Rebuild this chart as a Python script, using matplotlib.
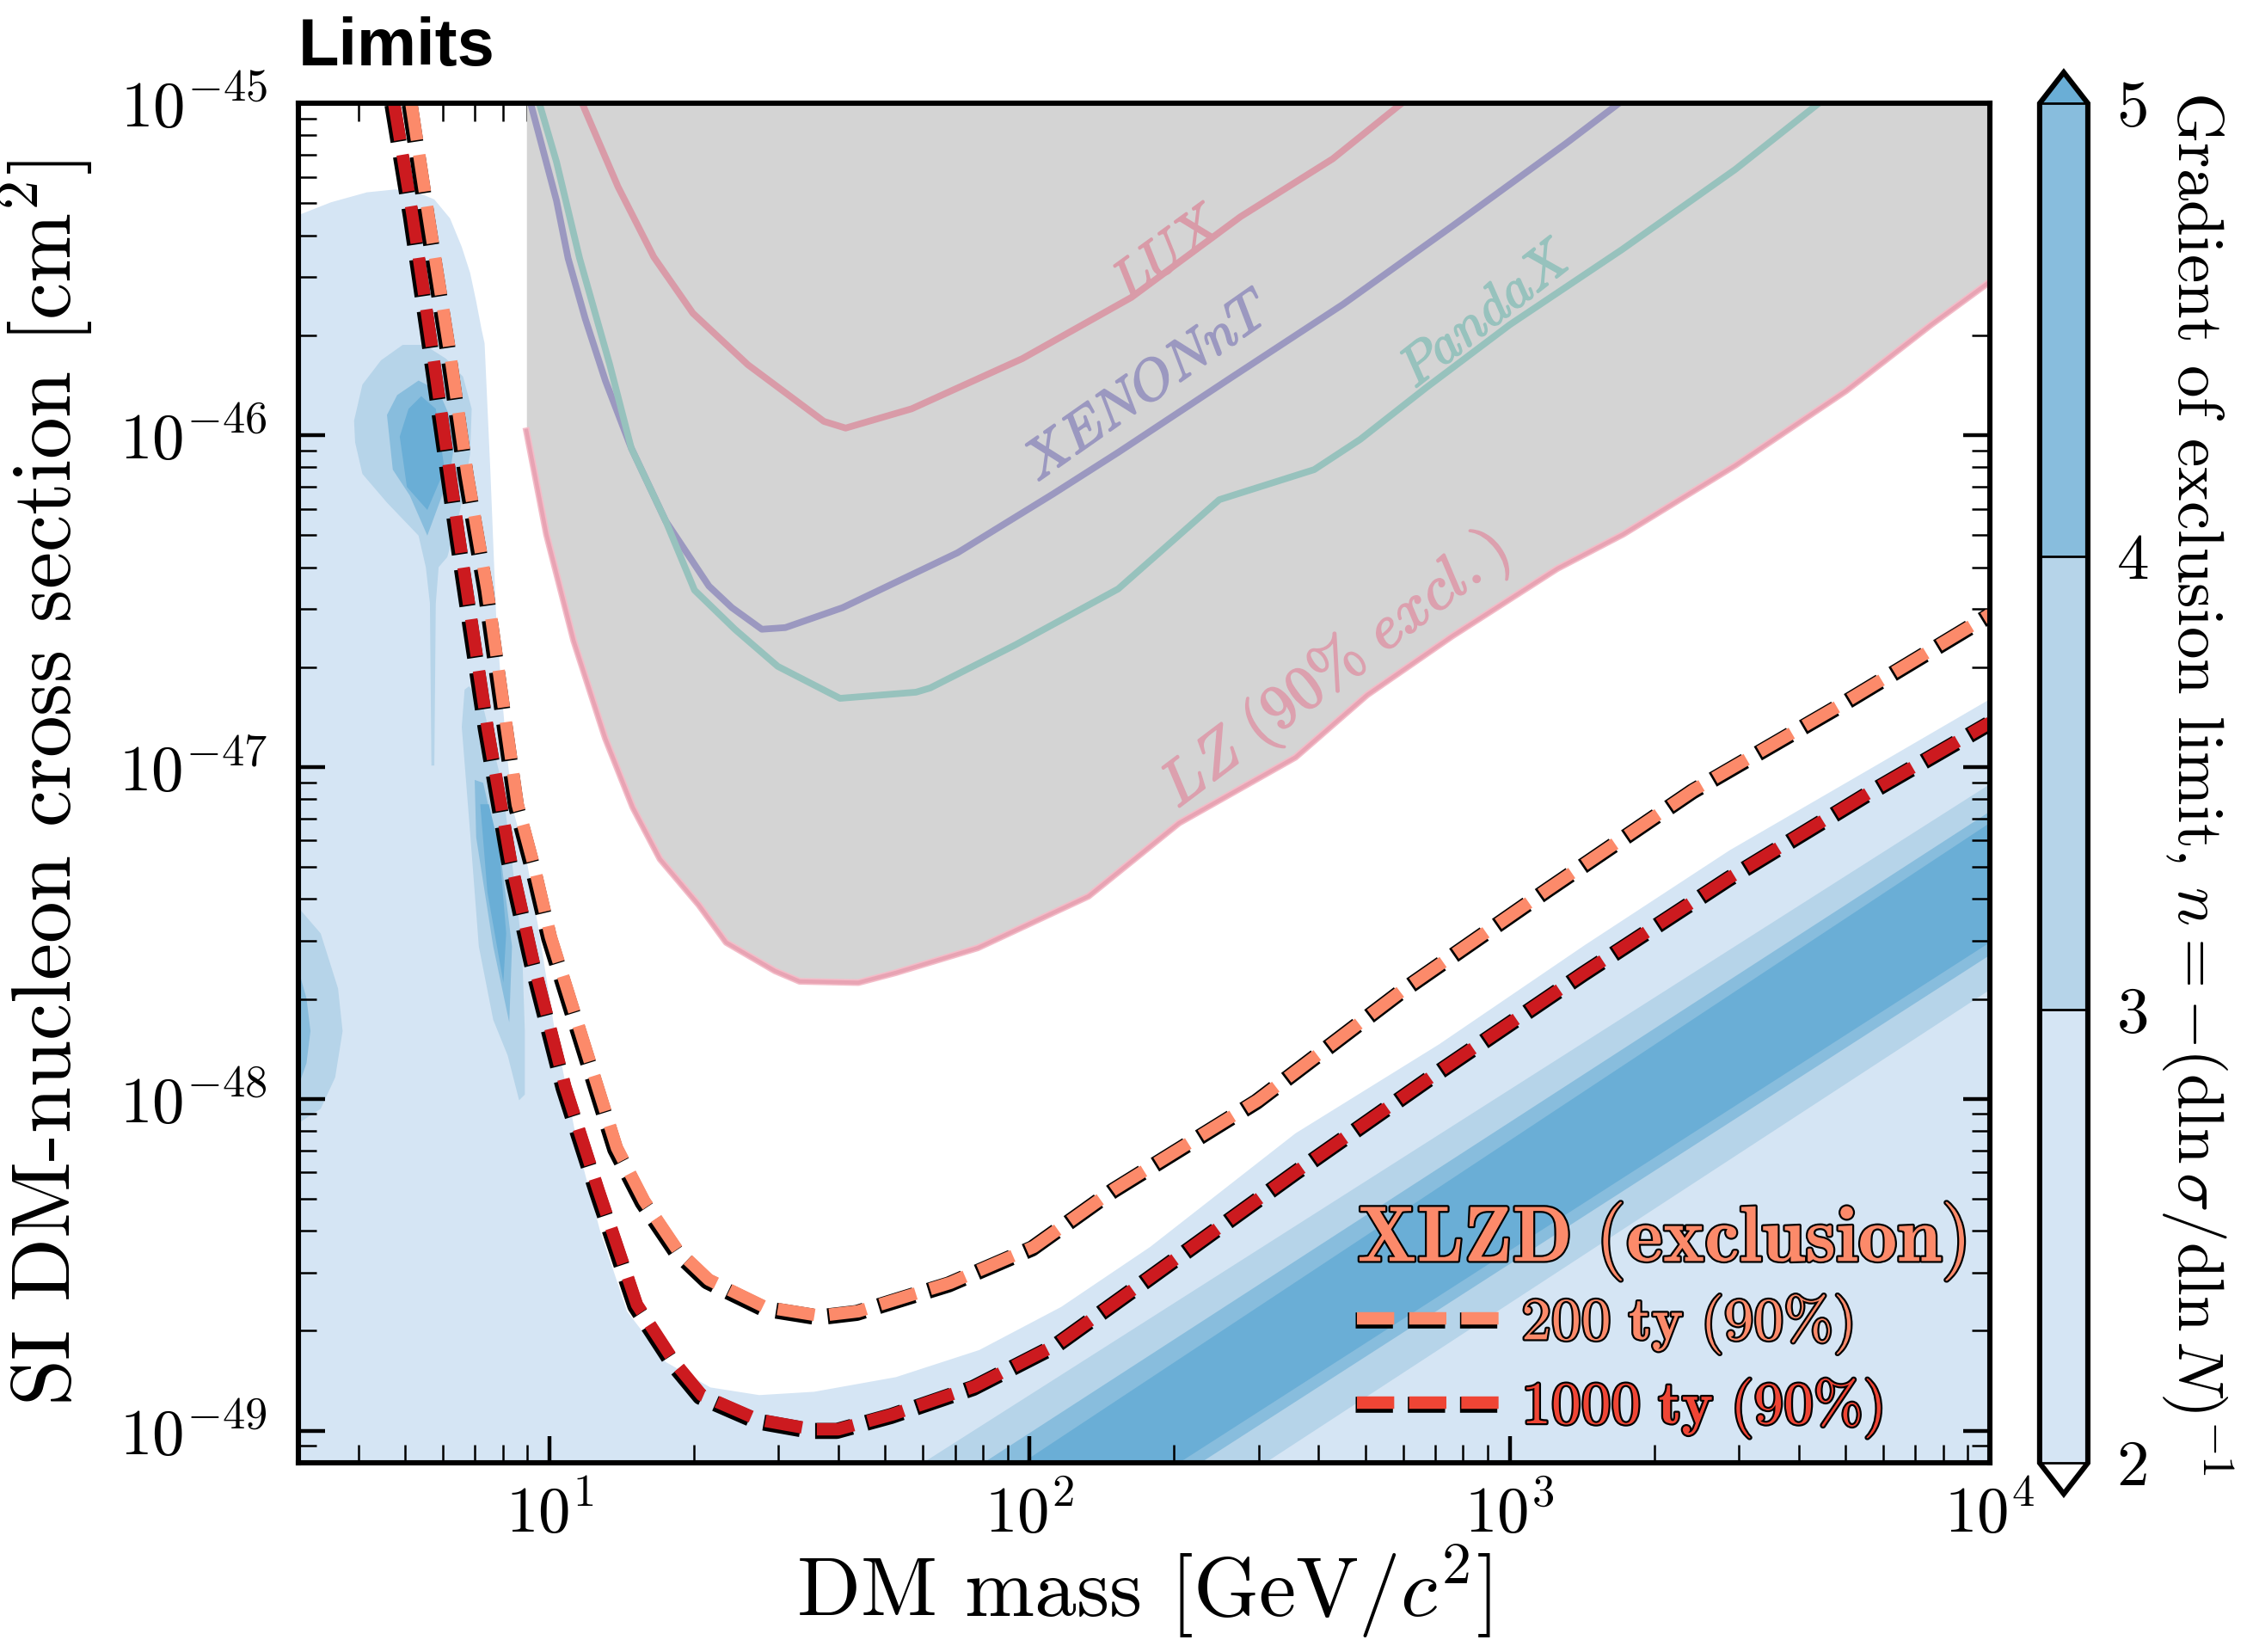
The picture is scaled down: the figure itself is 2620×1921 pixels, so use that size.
import numpy as np
import matplotlib
matplotlib.use('Agg')
import matplotlib.pyplot as plt
import matplotlib.patheffects as pe
from matplotlib.colors import ListedColormap, BoundaryNorm
from matplotlib.cm import ScalarMappable
from matplotlib.lines import Line2D
from matplotlib.ticker import LogLocator, NullFormatter, FixedLocator

plt.rcParams['mathtext.fontset'] = 'cm'
plt.rcParams['font.family'] = 'cmr10'
plt.rcParams['axes.formatter.use_mathtext'] = True

XMIN, XMAX = 3.0, 1e4
YMIN, YMAX = 8e-50, 1e-45
x_major = [1e1, 1e2, 1e3, 1e4]
y_major = [1e-49, 1e-48, 1e-47, 1e-46, 1e-45]

# --- existing limits (DM mass in GeV, cross section in cm^2) ---
lux_x = [11.7, 13.9, 16.5, 19.9, 25.9, 37.3, 41.4, 56.8, 96.6, 163, 275, 428, 596]
lux_y = [1.0e-45, 5.6e-46, 3.44e-46, 2.33e-46, 1.63e-46, 1.10e-46, 1.05e-46, 1.20e-46,
         1.70e-46, 2.60e-46, 4.55e-46, 6.8e-46, 1.0e-45]

xenon_x = [9.14, 10.35, 10.94, 11.88, 13.08, 14.81, 17.48, 21.49, 24.0, 27.7, 31.0, 40.8,
           70.8, 112, 153, 263, 450, 764, 1309, 1689]
xenon_y = [1e-45, 5.08e-46, 3.41e-46, 2.24e-46, 1.46e-46, 9.14e-47, 5.50e-47, 3.51e-47,
           3.02e-47, 2.60e-47, 2.63e-47, 3.02e-47, 4.42e-47, 6.65e-47, 8.87e-47, 1.49e-46,
           2.48e-46, 4.29e-46, 7.56e-46, 1e-45]

pandax_x = [9.53, 10.35, 11.56, 13.36, 14.81, 17.48, 20.06, 24.34, 29.9, 40.3, 58.0, 62.1,
            93.3, 153, 248.5, 391.6, 488, 670, 1000, 1712, 2951, 4403]
pandax_y = [1e-45, 6.65e-46, 3.41e-46, 1.63e-46, 9.14e-47, 5.50e-47, 3.41e-47, 2.60e-47,
            2.01e-47, 1.61e-47, 1.68e-47, 1.73e-47, 2.33e-47, 3.44e-47, 6.39e-47, 7.87e-47,
            9.70e-47, 1.39e-46, 2.15e-46, 3.62e-46, 6.32e-46, 1e-45]

lz_x = [8.96, 9.86, 11.24, 13.08, 14.92, 17.0, 20.48, 23.35, 29.5, 33.2, 44.0, 52.7, 78.0,
        132.7, 204.8, 358, 505, 759, 1256, 1724, 2951, 5018, 7539, 10000]
lz_y = [1.03e-46, 5.03e-47, 2.40e-47, 1.22e-47, 7.56e-48, 5.28e-48, 3.84e-48, 2.96e-48,
        2.43e-48, 2.26e-48, 2.24e-48, 2.40e-48, 2.85e-48, 4.08e-48, 6.78e-48, 1.07e-47,
        1.65e-47, 2.48e-47, 3.96e-47, 5.03e-47, 8.11e-47, 1.36e-46, 2.15e-46, 2.90e-46]

# --- XLZD projected exclusion ---
x200_x = [5.16, 5.60, 6.17, 6.75, 7.43, 8.02, 8.59, 9.33, 10.07, 11.48, 13.82, 15.76, 18.47,
          21.49, 28.1, 36.6, 44.0, 68.4, 102, 150.2, 299, 600, 1204, 2417, 4815, 9333, 10000]
x200_y = [1e-45, 4.60e-46, 1.89e-46, 7.64e-47, 3.41e-47, 1.55e-47, 7.72e-48, 4.93e-48,
          3.08e-48, 1.68e-48, 7.13e-49, 4.93e-49, 3.51e-49, 2.85e-49, 2.36e-49, 2.22e-49,
          2.29e-49, 2.79e-49, 3.58e-49, 5.34e-49, 9.90e-49, 2.13e-48, 4.29e-48, 8.52e-48,
          1.52e-47, 2.71e-47, 2.88e-47]

x1000_x = [4.75, 5.19, 5.68, 6.09, 6.48, 6.94, 7.43, 8.30, 9.27, 10.79, 12.64, 15.22, 18.22,
           20.77, 27.2, 35.3, 40.0, 51.9, 76.9, 114.0, 178.4, 358, 713, 1431, 2872, 5722, 10000]
x1000_y = [1e-45, 4.60e-46, 1.89e-46, 9.33e-47, 4.98e-47, 2.55e-47, 1.32e-47, 5.28e-48,
           2.58e-48, 1.09e-48, 5.34e-49, 2.40e-49, 1.61e-49, 1.28e-49, 1.08e-49, 1.01e-49,
           1.01e-49, 1.12e-49, 1.36e-49, 1.82e-49, 2.90e-49, 6.01e-49, 1.21e-48, 2.40e-48,
           4.64e-48, 8.52e-48, 1.36e-47]

# --- gradient n = -(dln sigma / dln N)^-1 : region boundaries ---
# n >= 2 : upper edge (region lies below it)
n2_edge_x = [3.0, 3.51, 4.17, 4.78, 5.31, 5.76, 6.21, 6.57, 6.84, 7.04, 7.23, 7.33, 7.54, 7.75,
             7.96, 8.19, 8.42, 8.96, 9.53, 10.21, 11.48, 12.73, 14.51, 17.48, 21.64, 27.36,
             35.6, 52.7, 78.6, 116.4, 178.4, 358, 713, 1431, 2872, 5722, 10000]
n2_edge_y = [4.60e-46, 5.03e-46, 5.39e-46, 5.50e-46, 5.39e-46, 5.13e-46, 4.50e-46, 3.69e-46,
             3.08e-46, 2.53e-46, 2.07e-46, 1.89e-46, 7.64e-47, 2.82e-47, 1.66e-47, 1.04e-47,
             7.34e-48, 5.28e-48, 3.15e-48, 1.68e-48, 7.13e-49, 4.04e-49, 2.29e-49, 1.61e-49,
             1.35e-49, 1.28e-49, 1.31e-49, 1.45e-49, 1.75e-49, 2.36e-49, 3.58e-49, 7.87e-49,
             1.46e-48, 2.90e-48, 5.61e-48, 1.0e-47, 1.60e-47]

# n >= 3 islands
n3_a_x = [3.92, 4.08, 4.46, 4.95, 5.49, 6.09, 6.61, 6.89, 6.84, 6.52, 6.13, 5.88, 5.80, 5.76,
          5.68, 5.64, 5.53, 5.34, 4.59, 4.08, 3.94]
n3_a_y = [1.105e-46, 1.42e-46, 1.68e-46, 1.87e-46, 1.87e-46, 1.70e-46, 1.50e-46, 1.20e-46,
          8.78e-47, 5.95e-47, 4.29e-47, 4.00e-47, 3.11e-47, 1.01e-47, 1.01e-47, 3.11e-47,
          4.00e-47, 4.98e-47, 6.26e-47, 7.64e-47, 9.51e-47]
n3_b_x = [6.66, 6.57, 6.84, 7.13, 7.64, 8.19, 8.65, 8.89, 8.89, 8.77, 8.36, 7.96, 7.23, 6.80]
n3_b_y = [1.71e-47, 1.32e-47, 6.32e-48, 2.88e-48, 1.73e-48, 1.35e-48, 9.90e-49, 1.03e-48,
          1.60e-48, 2.88e-48, 5.18e-48, 8.96e-48, 1.58e-47, 1.75e-47]
n3_c_x = [3.0, 3.34, 3.63, 3.71, 3.58, 3.34, 3.0]
n3_c_y = [3.77e-48, 3.15e-48, 2.15e-48, 1.60e-48, 1.16e-48, 9.33e-49, 8.44e-49]

# n >= 4 islands
n4_a_x = [4.59, 4.82, 5.34, 5.88, 6.39, 6.21, 5.57, 5.12, 4.72]
n4_a_y = [1.15e-46, 1.32e-46, 1.46e-46, 1.36e-46, 1.03e-46, 7.64e-47, 4.98e-47, 6.58e-47, 7.87e-47]
n4_b_x = [6.99, 7.04, 7.64, 8.25, 8.36, 7.96, 7.28]
n4_b_y = [9.14e-48, 6.14e-48, 2.88e-48, 1.70e-48, 2.88e-48, 5.08e-48, 8.96e-48]
n4_c_x = [3.0, 3.12, 3.18, 3.12, 3.0]
n4_c_y = [2.45e-48, 2.01e-48, 1.60e-48, 1.28e-48, 1.09e-48]

# n >= 5 islands
n5_a_x = [4.88, 5.09, 5.41, 5.80, 6.05, 5.57, 5.05]
n5_a_y = [9.90e-47, 1.20e-46, 1.31e-46, 1.20e-46, 7.87e-47, 5.95e-47, 6.98e-47]
n5_b_x = [7.18, 7.43, 8.02, 8.13, 7.86, 7.48]
n5_b_y = [7.72e-48, 4.20e-48, 2.24e-48, 3.15e-48, 5.72e-48, 7.72e-48]

# diagonal bands at high mass: (upper edge, lower edge)
band3_up_x, band3_up_y = [60.0, 10000], [8e-50, 8.87e-48]
band3_lo_x, band3_lo_y = [309.7, 10000], [8e-50, 2.13e-48]
band4_up_x, band4_up_y = [80.2, 10000], [8e-50, 7.34e-48]
band4_lo_x, band4_lo_y = [227, 10000], [8e-50, 2.71e-48]
band5_up_x, band5_up_y = [96.6, 10000], [8e-50, 6.78e-48]
band5_lo_x, band5_lo_y = [204.8, 10000], [8e-50, 2.96e-48]

levels = [2, 3, 4, 5]
level_colors = ['#d5e5f4', '#b6d4e9', '#88bddd']
over_color = '#6aaed6'

C_LUX, C_XEN, C_PAN, C_LZ = '#d99ba8', '#9b98c0', '#97c2bd', '#e8a3b3'
C200, C1000 = '#fc8a6a', '#cc1a1f'
C200_LEG, C1000_LEG = '#fc8a6a', '#ef4535'

fig = plt.figure(figsize=(13.1, 9.605), dpi=200)
ax = fig.add_axes([0.1324, 0.1145, 0.7508, 0.8230])
cax = fig.add_axes([0.9053, 0.0957, 0.0214, 0.8605])

ax.set_xscale('log')
ax.set_yscale('log')
ax.set_xlim(XMIN, XMAX)
ax.set_ylim(YMIN, YMAX)

# gradient regions
ax.fill(n2_edge_x + [XMAX, XMIN], n2_edge_y + [YMIN, YMIN], color=level_colors[0], lw=0, zorder=1)
for px, py in [(n3_a_x, n3_a_y), (n3_b_x, n3_b_y), (n3_c_x, n3_c_y),
               (band3_up_x + band3_lo_x[::-1], band3_up_y + band3_lo_y[::-1])]:
    ax.fill(px, py, color=level_colors[1], lw=0, zorder=1.1)
for px, py in [(n4_a_x, n4_a_y), (n4_b_x, n4_b_y), (n4_c_x, n4_c_y),
               (band4_up_x + band4_lo_x[::-1], band4_up_y + band4_lo_y[::-1])]:
    ax.fill(px, py, color=level_colors[2], lw=0, zorder=1.2)
for px, py in [(n5_a_x, n5_a_y), (n5_b_x, n5_b_y),
               (band5_up_x + band5_lo_x[::-1], band5_up_y + band5_lo_y[::-1])]:
    ax.fill(px, py, color=over_color, lw=0, zorder=1.3)

# excluded region
ax.fill_between(lz_x, lz_y, YMAX, color='#d4d4d4', lw=0, zorder=2)
ax.plot(lux_x, lux_y, color=C_LUX, lw=2.8, zorder=3)
ax.plot(xenon_x, xenon_y, color=C_XEN, lw=2.8, zorder=3)
ax.plot(pandax_x, pandax_y, color=C_PAN, lw=2.8, zorder=3)
ax.plot(lz_x, lz_y, color=C_LZ, lw=1.6, zorder=3,
        path_effects=[pe.Stroke(linewidth=2.8, foreground='#f3bcc8'), pe.Normal()])

def thick(c):
    return [pe.withStroke(linewidth=0.7, foreground=c)]

ax.text(195, 3.48e-46, r'$\mathit{LUX}$', color=C_LUX, fontsize=23, rotation=36,
        ha='center', va='center', zorder=4, path_effects=thick(C_LUX))
ax.text(177, 1.39e-46, r'$\mathit{XENONnT}$', color=C_XEN, fontsize=23, rotation=35,
        ha='center', va='center', zorder=4, path_effects=thick(C_XEN))
ax.text(895, 2.29e-46, r'$\mathit{PandaX}$', color=C_PAN, fontsize=23, rotation=38,
        ha='center', va='center', zorder=4, path_effects=thick(C_PAN))
ax.text(431, 1.95e-47, r'$\mathit{LZ\ (90\%\ excl.)}$', color='#dca0ae', fontsize=26,
        rotation=37, ha='center', va='center', zorder=4, path_effects=thick('#dca0ae'))

# XLZD projections
LW = 5.2
dash = (3.0, 1.2)
def outline(lw):
    return [pe.Stroke(linewidth=lw + 1.5, foreground='k', offset=(-0.7, -0.7)), pe.Normal()]

ax.plot(x1000_x, x1000_y, color=C1000, lw=LW, dashes=dash, zorder=5, path_effects=outline(LW))
ax.plot(x200_x, x200_y, color=C200, lw=LW, dashes=dash, zorder=5, path_effects=outline(LW))

txt_pe = [pe.withStroke(linewidth=1.6, foreground='k')]
h200 = Line2D([], [], color=C200_LEG, lw=LW, dashes=dash, path_effects=outline(LW))
h1000 = Line2D([], [], color=C1000_LEG, lw=LW, dashes=dash, path_effects=outline(LW))
leg = ax.legend([h200, h1000], [r'$\mathbf{200\ ty}\ (90\%)$', r'$\mathbf{1000\ ty}\ (90\%)$'],
                fontsize=25, loc='lower left', bbox_to_anchor=(0.626, 0.017), frameon=False,
                borderaxespad=0, borderpad=0, handlelength=2.4, handletextpad=0.35,
                labelspacing=0.35)
leg.set_zorder(6)
for t, c in zip(leg.get_texts(), [C200_LEG, C1000_LEG]):
    t.set_color(c)
    t.set_path_effects(txt_pe)
ax.text(0.626, 0.163, r'$\mathbf{XLZD\ (exclusion)}$', transform=ax.transAxes, fontsize=33,
        color=C200_LEG, ha='left', va='center', zorder=6, path_effects=txt_pe)

# axes styling
for s in ax.spines.values():
    s.set_linewidth(2.2)
    s.set_zorder(10)
ax.xaxis.set_major_locator(FixedLocator(x_major))
ax.yaxis.set_major_locator(FixedLocator(y_major))
ax.xaxis.set_minor_locator(LogLocator(base=10, subs=np.arange(2, 10), numticks=100))
ax.yaxis.set_minor_locator(LogLocator(base=10, subs=np.arange(2, 10), numticks=100))
ax.xaxis.set_minor_formatter(NullFormatter())
ax.yaxis.set_minor_formatter(NullFormatter())
ax.tick_params(which='both', direction='in', top=True, right=True)
ax.tick_params(which='major', length=11, width=1.6, labelsize=27)
ax.tick_params(which='minor', length=7.5, width=0.9)
ax.tick_params(axis='x', which='major', pad=9)
ax.tick_params(axis='y', which='major', pad=13)

ax.set_xlabel(r'DM mass [GeV/$c^2$]', fontsize=35, labelpad=-1)
ax.set_ylabel(r'SI DM-nucleon cross section [cm$^2$]', fontsize=35, labelpad=10)
ax.set_title('Limits', loc='left', fontfamily='Liberation Sans', fontweight='bold',
             fontsize=28, pad=16)

# colorbar
cmap = ListedColormap(level_colors)
cmap.set_under('white')
cmap.set_over(over_color)
norm = BoundaryNorm(levels, cmap.N)
cb = fig.colorbar(ScalarMappable(norm=norm, cmap=cmap), cax=cax, extend='both',
                  extendfrac=0.0228, drawedges=True, ticks=levels)
cb.outline.set_linewidth(2.2)
cb.dividers.set_linewidth(1.0)
cb.dividers.set_color('k')
cb.ax.tick_params(length=0, labelsize=27, pad=12)
cb.set_label(r'Gradient of exclusion limit, $n = -(\mathrm{d}\ln\sigma/\mathrm{d}\ln N)^{-1}$',
             fontsize=27, rotation=270, labelpad=36)

fig.savefig('out.png', dpi=200)
